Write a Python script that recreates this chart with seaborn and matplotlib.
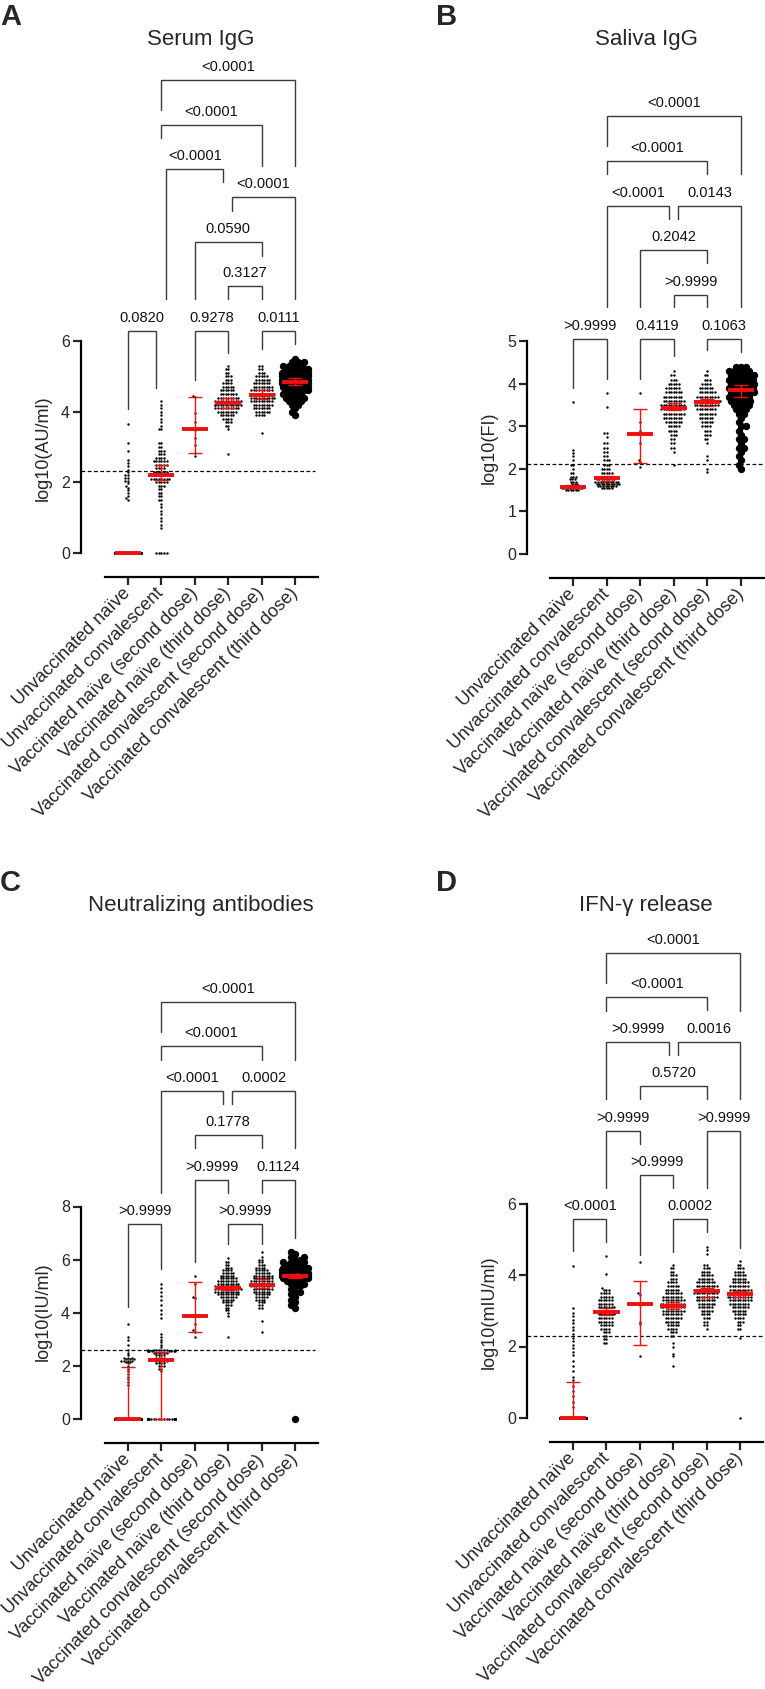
import warnings
warnings.filterwarnings("ignore")
import numpy as np
import pandas as pd
import matplotlib
matplotlib.use("Agg")
import matplotlib.pyplot as plt
import seaborn as sns

sns.set_theme(style="ticks")
plt.rcParams['font.family'] = ['Liberation Sans', 'DejaVu Sans']

categories = ["Unvaccinated naïve", "Unvaccinated convalescent",
              "Vaccinated naïve (second dose)", "Vaccinated naïve (third dose)",
              "Vaccinated convalescent (second dose)", "Vaccinated convalescent (third dose)"]

# ---------------- Panel A: Serum IgG ----------------
serum_levels = [
    [3.65, 3.12, 2.9, 2.62, 2.55, 2.45, 2.35, 2.28, 2.2, 2.12, 2.05, 1.98, 1.9, 1.85, 1.78, 1.7, 1.62, 1.55, 1.5, 0.0],
    [4.3, 4.2, 4.1, 4.0, 3.9, 3.8, 3.7, 3.6, 3.5, 3.1, 3.0, 2.9, 2.8, 2.7, 2.6, 2.5, 2.4, 2.3, 2.2, 2.1, 2.0, 1.9,
     1.8, 1.7, 1.6, 1.5, 1.4, 1.3, 1.2, 1.1, 1.0, 0.9, 0.8, 0.7, 0.0],
    [4.45, 4.42, 3.96, 3.7, 3.5, 3.48, 3.25, 3.05, 2.83, 2.75],
    [5.3, 5.2, 5.1, 5.0, 4.9, 4.8, 4.7, 4.6, 4.5, 4.4, 4.3, 4.2, 4.1, 4.0, 3.9, 3.8, 3.7, 3.6, 3.5, 2.8],
    [5.3, 5.2, 5.1, 5.0, 4.9, 4.8, 4.7, 4.6, 4.5, 4.4, 4.3, 4.2, 4.1, 4.0, 3.9, 3.4],
    [5.5, 5.4, 5.3, 5.2, 5.1, 5.0, 4.9, 4.8, 4.7, 4.6, 4.5, 4.4, 4.3, 4.2, 4.1, 4.0, 3.9],
]
serum_counts = [
    [1, 1, 1, 1, 1, 1, 1, 1, 2, 2, 2, 1, 1, 1, 1, 1, 1, 1, 1, 24],
    [1, 1, 1, 1, 1, 1, 1, 1, 2, 2, 2, 3, 3, 4, 6, 5, 4, 6, 10, 8, 5, 3, 2, 2, 2, 2, 1, 1, 1, 1, 1, 1, 1, 1, 5],
    [1, 1, 1, 1, 1, 1, 1, 1, 1, 1],
    [1, 2, 2, 3, 3, 4, 5, 6, 7, 9, 11, 12, 10, 8, 6, 4, 3, 2, 1, 1],
    [2, 2, 3, 5, 6, 7, 8, 9, 10, 10, 9, 8, 7, 6, 4, 1],
    [1, 3, 4, 5, 6, 6, 6, 6, 5, 5, 4, 4, 3, 2, 1, 1, 1],
]
serum_median = [0.0, 2.22, 3.5, 4.25, 4.48, 4.85]
serum_q1 = [0.0, 2.08, 2.83, 4.1, 4.35, 4.75]
serum_q3 = [0.0, 2.5, 4.42, 4.4, 4.6, 4.95]
serum_threshold = 2.33
serum_pvalues = ['<0.0001', '<0.0001', '<0.0001', '<0.0001', '0.0590', '0.3127', '0.0820', '0.9278', '0.0111']

# ---------------- Panel B: Saliva IgG ----------------
saliva_levels = [
    [3.57, 2.45, 2.38, 2.3, 2.2, 2.1, 2.0, 1.9, 1.8, 1.75, 1.7, 1.65, 1.6, 1.55, 1.5],
    [3.78, 3.45, 2.85, 2.75, 2.6, 2.5, 2.4, 2.3, 2.2, 2.1, 2.0, 1.9, 1.8, 1.75, 1.7, 1.65, 1.6, 1.55],
    [3.78, 3.1, 2.9, 2.83, 2.6, 2.2, 2.15, 2.05],
    [4.3, 4.2, 4.1, 4.0, 3.9, 3.8, 3.7, 3.6, 3.5, 3.4, 3.3, 3.2, 3.1, 3.0, 2.9, 2.8, 2.7, 2.6, 2.5, 2.4, 2.1],
    [4.3, 4.2, 4.1, 4.0, 3.9, 3.8, 3.7, 3.6, 3.5, 3.4, 3.3, 3.2, 3.1, 3.0, 2.9, 2.8, 2.7, 2.6, 2.3, 2.2, 2.0, 1.93],
    [4.4, 4.3, 4.2, 4.1, 4.0, 3.9, 3.8, 3.7, 3.6, 3.5, 3.4, 3.3, 3.2, 3.1, 3.0, 2.9, 2.8, 2.7, 2.6, 2.5, 2.4, 2.3,
     2.2, 2.1, 2.0],
]
saliva_counts = [
    [1, 1, 1, 1, 1, 2, 1, 2, 3, 3, 3, 3, 7, 9, 6],
    [1, 1, 2, 1, 2, 2, 2, 2, 3, 3, 4, 5, 8, 8, 10, 10, 8, 5],
    [1, 1, 1, 1, 1, 1, 1, 1],
    [1, 2, 3, 5, 6, 7, 8, 9, 10, 10, 9, 8, 7, 5, 4, 3, 2, 2, 2, 1, 1],
    [1, 2, 3, 4, 6, 7, 9, 11, 10, 8, 7, 6, 5, 4, 3, 3, 2, 1, 1, 1, 1, 1],
    [3, 5, 6, 6, 6, 6, 6, 5, 5, 4, 3, 2, 1, 1, 2, 1, 1, 2, 1, 2, 1, 1, 1, 1, 1],
]
saliva_median = [1.58, 1.78, 2.83, 3.44, 3.58, 3.85]
saliva_q1 = [1.55, 1.72, 2.14, 3.38, 3.48, 3.7]
saliva_q3 = [1.63, 1.82, 3.41, 3.55, 3.65, 3.97]
saliva_threshold = 2.11
saliva_pvalues = ['<0.0001', '<0.0001', '<0.0001', '0.0143', '0.2042', '>0.9999', '>0.9999', '0.4119', '0.1063']

# ---------------- Panel C: Neutralizing antibodies ----------------
neut_levels = [
    [3.6, 3.1, 3.0, 2.8, 2.6, 2.5, 2.4, 2.3, 2.25, 2.2, 2.15, 2.1, 2.0, 1.9, 1.8, 1.7, 1.6, 1.5, 1.4, 1.3, 0.0],
    [5.1, 4.95, 4.8, 4.65, 4.5, 4.3, 4.1, 3.95, 3.8, 3.2, 3.1, 3.0, 2.9, 2.8, 2.7, 2.6, 2.55, 2.5, 2.4, 2.3, 2.2,
     2.1, 2.0, 1.9, 1.8, 0.0],
    [5.38, 5.1, 4.6, 4.55, 3.9, 3.88, 3.6, 3.35, 3.28, 3.1],
    [6.05, 5.9, 5.8, 5.7, 5.6, 5.5, 5.4, 5.3, 5.2, 5.1, 5.0, 4.9, 4.8, 4.7, 4.6, 4.5, 4.4, 4.3, 4.2, 4.1, 4.0, 3.9, 3.1],
    [6.3, 6.1, 6.0, 5.9, 5.8, 5.7, 5.6, 5.5, 5.4, 5.3, 5.2, 5.1, 5.0, 4.9, 4.8, 4.7, 4.6, 4.5, 4.4, 4.3, 4.2, 3.7, 3.27],
    [6.3, 6.2, 6.1, 6.0, 5.9, 5.8, 5.7, 5.6, 5.5, 5.4, 5.3, 5.2, 5.1, 5.0, 4.9, 4.8, 4.7, 4.6, 4.5, 4.4, 4.3, 4.2, 0.0],
]
neut_counts = [
    [1, 1, 1, 1, 1, 1, 1, 3, 3, 4, 2, 1, 1, 1, 1, 1, 1, 1, 1, 1, 30],
    [1, 1, 1, 1, 1, 1, 1, 1, 1, 1, 1, 1, 1, 1, 1, 8, 8, 6, 4, 4, 5, 4, 3, 2, 1, 25],
    [1, 1, 1, 1, 1, 1, 1, 1, 1, 1],
    [1, 2, 2, 3, 4, 5, 6, 7, 8, 9, 10, 11, 10, 9, 7, 5, 4, 3, 2, 2, 1, 1, 1],
    [1, 1, 2, 2, 3, 4, 5, 6, 8, 8, 9, 9, 9, 8, 7, 6, 5, 4, 3, 2, 2, 1, 1],
    [1, 1, 2, 2, 3, 3, 4, 4, 5, 5, 4, 3, 2, 2, 1, 2, 1, 1, 1, 1, 1, 1, 1],
]
neut_median = [0.0, 2.22, 3.9, 4.92, 5.05, 5.37]
neut_q1 = [0.0, 0.0, 3.28, 4.85, 4.95, 5.3]
neut_q3 = [1.98, 2.52, 5.15, 5.0, 5.27, 5.45]
neut_threshold = 2.6
neut_pvalues = ['<0.0001', '<0.0001', '<0.0001', '0.0002', '0.1778', '>0.9999', '0.1124', '>0.9999', '>0.9999']

# ---------------- Panel D: IFN-γ release ----------------
ifn_levels = [
    [4.26, 3.07, 2.95, 2.85, 2.75, 2.65, 2.55, 2.45, 2.35, 2.25, 2.15, 2.05, 1.95, 1.85, 1.75, 1.6, 1.45, 1.3, 1.15,
     1.05, 0.9, 0.75, 0.6, 0.45, 0.3, 0.0],
    [4.55, 4.05, 3.65, 3.6, 3.5, 3.4, 3.3, 3.2, 3.1, 3.0, 2.9, 2.8, 2.7, 2.6, 2.5, 2.4, 2.3, 2.2, 2.1],
    [4.38, 3.5, 3.45, 3.2, 3.16, 2.7, 2.62, 1.72],
    [4.3, 4.2, 4.1, 4.0, 3.9, 3.8, 3.7, 3.6, 3.5, 3.4, 3.3, 3.2, 3.1, 3.0, 2.9, 2.8, 2.7, 2.6, 2.5, 2.4, 2.3, 2.1,
     2.0, 1.8, 1.72, 1.45],
    [4.8, 4.7, 4.6, 4.3, 4.2, 4.1, 4.0, 3.9, 3.8, 3.7, 3.6, 3.5, 3.4, 3.3, 3.2, 3.1, 3.0, 2.9, 2.8, 2.7, 2.6, 2.5],
    [4.4, 4.3, 4.2, 4.1, 4.0, 3.9, 3.8, 3.7, 3.6, 3.5, 3.4, 3.3, 3.2, 3.1, 3.0, 2.9, 2.8, 2.7, 2.6, 2.5, 2.25, 0.0],
]
ifn_counts = [
    [1, 1, 1, 1, 1, 1, 1, 1, 1, 1, 1, 1, 1, 1, 1, 1, 1, 1, 1, 1, 1, 1, 1, 1, 1, 40],
    [1, 1, 1, 3, 4, 5, 6, 6, 7, 7, 7, 6, 6, 5, 4, 3, 2, 2, 2],
    [1, 1, 1, 1, 1, 1, 1, 1],
    [1, 2, 2, 3, 3, 4, 5, 6, 7, 8, 9, 10, 10, 9, 8, 7, 6, 5, 4, 3, 2, 1, 1, 1, 1, 1],
    [1, 1, 1, 2, 3, 4, 5, 6, 8, 9, 10, 10, 9, 8, 7, 6, 5, 4, 3, 2, 2, 1],
    [1, 2, 3, 4, 5, 6, 7, 8, 9, 10, 10, 9, 8, 7, 6, 5, 4, 3, 2, 2, 1, 1],
]
ifn_median = [0.0, 2.96, 3.18, 3.15, 3.55, 3.47]
ifn_q1 = [0.0, 2.88, 2.03, 3.05, 3.4, 3.38]
ifn_q3 = [1.0, 3.07, 3.83, 3.25, 3.65, 3.55]
ifn_threshold = 2.3
ifn_pvalues = ['<0.0001', '<0.0001', '>0.9999', '0.0016', '0.5720', '>0.9999', '>0.9999', '>0.9999', '<0.0001',
               '0.0002']

# ---------------- layout (annotation geometry, in data units) ----------------
A_brackets = [(1, 5, 13.39, 12.54, 10.95), (1, 4, 12.11, 11.75, 10.95), (1.15, 2.85, 10.87, 7.19, 10.50),
              (3.12, 5, 10.08, 9.68, 7.19), (2, 4, 8.80, 7.19, 8.41), (3, 4, 7.56, 7.19, 7.19),
              (0, 0.85, 6.28, 4.08, 4.67), (2, 3, 6.28, 4.90, 5.66), (4, 5, 6.28, 5.77, 5.92)]
B_brackets = [(1, 5, 10.30, 9.59, 8.93), (1, 4, 9.24, 8.93, 8.93), (1, 2.85, 8.18, 5.81, 7.87),
              (3.13, 5, 8.18, 7.87, 5.81), (2, 4, 7.15, 5.81, 6.84), (3, 4, 6.10, 5.80, 5.80),
              (0, 1, 5.06, 3.91, 4.11), (2, 3, 5.06, 4.11, 4.65), (4, 5, 5.06, 4.80, 4.76)]
C_brackets = [(1, 5, 15.69, 14.57, 13.51), (1, 4, 14.02, 13.51, 13.51), (1, 2.85, 12.35, 8.50, 11.85),
              (3.12, 5, 12.35, 11.85, 10.19), (2, 4, 10.68, 10.19, 10.19), (2, 3, 9.01, 5.92, 8.50),
              (4, 5, 9.01, 8.50, 6.80), (0, 1, 7.34, 4.22, 5.64), (3, 4, 7.34, 6.58, 6.58)]
D_brackets = [(1, 5, 13.06, 12.20, 11.42), (1, 4, 11.81, 11.42, 11.45), (1, 2.86, 10.56, 8.94, 10.19),
              (3.14, 5, 10.56, 10.19, 8.94), (2, 4, 9.32, 8.94, 8.94), (1, 2, 8.06, 6.44, 7.69),
              (4, 5, 8.06, 6.44, 4.76), (2, 3, 6.82, 4.57, 6.44), (0, 1, 5.57, 4.68, 4.94),
              (3, 4, 5.57, 4.65, 5.21)]

W, H = 765, 1689
fig = plt.figure(figsize=(W / 100, H / 100), dpi=100)
RED = '#ee1111'
BIG_LAYOUT_SIZE = 3.3   # marker size used for the swarm arrangement of the dense group
BIG_DRAW_SIZE = 5.3     # marker size actually drawn (overlapping, as in the original)
big_collections = []


def make_axes(left, right, top, bottom, x0, dx, y0, dy):
    ax = fig.add_axes([left / W, 1 - bottom / H, (right - left) / W, (bottom - top) / H])
    xlim = ((left - x0) / dx, (right - x0) / dx)
    ylim = ((y0 - bottom) / dy, (y0 - top) / dy)
    return ax, xlim, ylim


def draw_panel(ax, xlim, ylim, levels, counts, big, med, q1, q3, thr, thr_xmax, ytop, brackets, pvals):
    rows = []
    for gi, (lv, ct) in enumerate(zip(levels, counts)):
        for v in np.repeat(lv, ct):
            rows.append((categories[gi], float(v), gi == big))
    df = pd.DataFrame(rows, columns=['group', 'value', 'big'])
    sns.swarmplot(data=df[~df['big']], x='group', y='value', order=categories, color='black',
                  size=1.75, linewidth=0, ax=ax, zorder=3)
    if big is not None:
        sns.swarmplot(data=df[df['big']], x='group', y='value', order=categories, color='black',
                      size=BIG_LAYOUT_SIZE, linewidth=0, ax=ax, zorder=3)
        big_collections.append(ax.collections[-1])
    xs = np.arange(len(categories))
    med = np.array(med); q1 = np.array(q1); q3 = np.array(q3)
    ax.errorbar(xs, med, yerr=[med - q1, q3 - med], fmt='none', ecolor=RED, elinewidth=1.0,
                capsize=5, capthick=1.0, zorder=5)
    ax.hlines(med, xs - 0.39, xs + 0.39, colors=RED, lw=2.8, zorder=6)
    ax.axhline(thr, xmin=0, xmax=thr_xmax, color='black', lw=0.9, ls=(0, (3, 2)), zorder=2)
    for (x1, x2, yt, b1, b2), lab in zip(brackets, pvals):
        ax.plot([x1, x1, x2, x2], [b1, yt, yt, b2], color='#3a3a3a', lw=1.0, zorder=4,
                solid_joinstyle='miter')
        ax.annotate(lab, xy=((x1 + x2) / 2, yt), xytext=(0, 6.5), textcoords='offset points',
                    ha='center', va='baseline', fontsize=10.5, color='#111111')
    ax.set_xlim(*xlim)
    ax.set_ylim(*ylim)
    ax.set_xticks(xs)
    ax.set_xticklabels(categories, rotation=45, ha='right', va='center', rotation_mode='anchor', fontsize=13)
    ax.set_yticks(np.arange(0, ytop + 1, 1 if ytop == 5 else 2))
    ax.tick_params(axis='y', labelsize=11.5, width=1.6, length=6, pad=2)
    ax.tick_params(axis='x', width=1.6, length=6, pad=4)
    for s in ['top', 'right']:
        ax.spines[s].set_visible(False)
    ax.spines['left'].set_bounds(0, ytop)
    ax.spines['bottom'].set_bounds(-0.69, 5.69)
    for s in ['left', 'bottom']:
        ax.spines[s].set_linewidth(1.6)
        ax.spines[s].set_color('black')
    ax.set_xlabel('')
    ax.set_ylabel('')
    ax.patch.set_alpha(0)


axA, xlA, ylA = make_axes(81, 318, 60, 577, 128, 33.4, 553, 35.33)
draw_panel(axA, xlA, ylA, serum_levels, serum_counts, 5, serum_median, serum_q1, serum_q3,
           serum_threshold, 0.987, 6, A_brackets, serum_pvalues)
axB, xlB, ylB = make_axes(527.3, 763.6, 90, 577.7, 573.3, 33.5, 553.8, 42.5)
draw_panel(axB, xlB, ylB, saliva_levels, saliva_counts, 5, saliva_median, saliva_q1, saliva_q3,
           saliva_threshold, 1.0, 5, B_brackets, saliva_pvalues)
axC, xlC, ylC = make_axes(81, 318, 960, 1443.3, 128, 33.4, 1419.3, 26.6)
draw_panel(axC, xlC, ylC, neut_levels, neut_counts, 5, neut_median, neut_q1, neut_q3,
           neut_threshold, 0.987, 8, C_brackets, neut_pvalues)
axD, xlD, ylD = make_axes(527.3, 763.6, 920, 1441.7, 573, 33.46, 1417.7, 35.6)
draw_panel(axD, xlD, ylD, ifn_levels, ifn_counts, None, ifn_median, ifn_q1, ifn_q3,
           ifn_threshold, 1.0, 6, D_brackets, ifn_pvalues)


def ftext(x, y, s, **kw):
    fig.text(x / W, 1 - y / H, s, **kw)


ftext(201, 40, "Serum IgG", ha='center', va='center', fontsize=16)
ftext(646, 40, "Saliva IgG", ha='center', va='center', fontsize=16)
ftext(201, 905, "Neutralizing antibodies", ha='center', va='center', fontsize=16)
ftext(646, 905, "IFN-γ release", ha='center', va='center', fontsize=16)
ftext(0, 17, "A", ha='left', va='center', fontsize=21, fontweight='bold')
ftext(436, 17, "B", ha='left', va='center', fontsize=21, fontweight='bold')
ftext(0, 883, "C", ha='left', va='center', fontsize=21, fontweight='bold')
ftext(436, 883, "D", ha='left', va='center', fontsize=21, fontweight='bold')
ftext(43, 448, "log10(AU/ml)", ha='center', va='center', rotation=90, fontsize=13)
ftext(489, 448, "log10(FI)", ha='center', va='center', rotation=90, fontsize=13)
ftext(43, 1312, "log10(IU/ml)", ha='center', va='center', rotation=90, fontsize=13)
ftext(489, 1312, "log10(mIU/ml)", ha='center', va='center', rotation=90, fontsize=13)

# lay out the dense swarms with seaborn, then draw their markers larger (overlapping)
fig.canvas.draw()
for coll in big_collections:
    if 'draw' in coll.__dict__:
        del coll.draw
    coll.set_sizes([BIG_DRAW_SIZE ** 2])

fig.savefig("out.png", dpi=100)
